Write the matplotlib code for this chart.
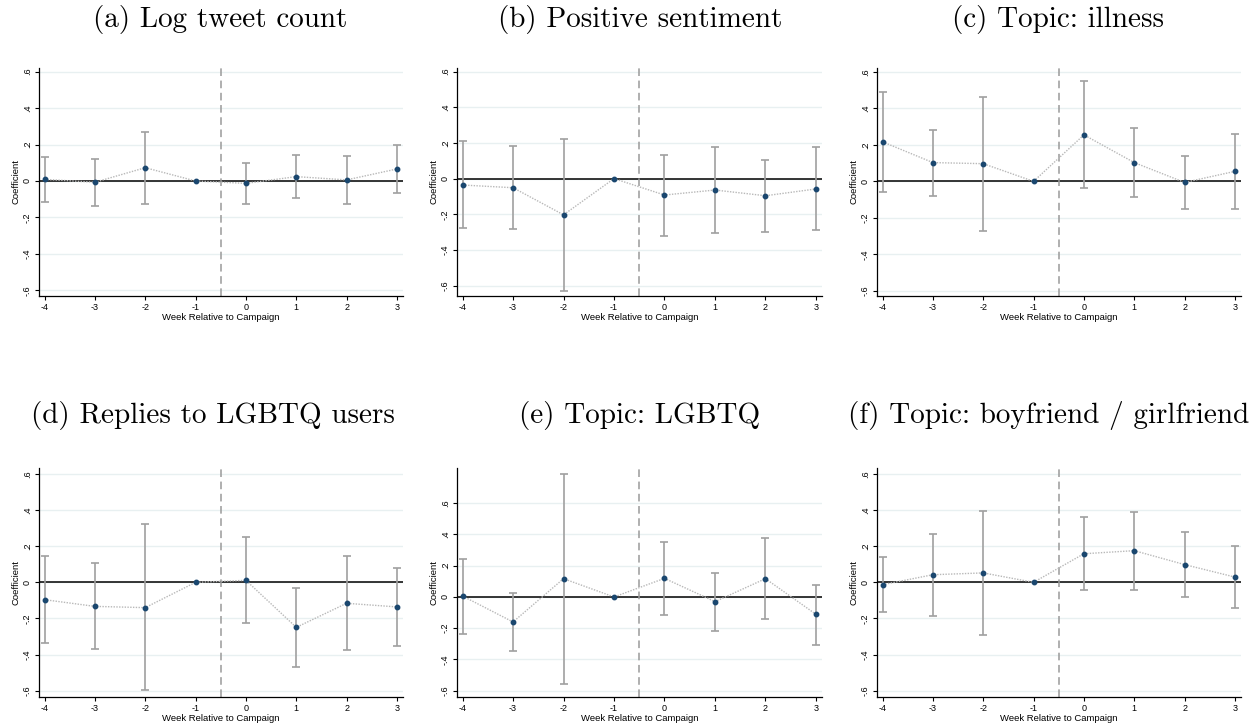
import numpy as np
import matplotlib
matplotlib.use("Agg")
import matplotlib.pyplot as plt

weeks = [-4, -3, -2, -1, 0, 1, 2, 3]

titles = ["(a) Log tweet count", "(b) Positive sentiment", "(c) Topic: illness",
          "(d) Replies to LGBTQ users", "(e) Topic: LGBTQ",
          "(f) Topic: boyfriend / girlfriend"]

# point estimates (week -1 is the omitted reference week)
coef_a = [0.009, -0.007, 0.073, 0.0, -0.013, 0.024, 0.006, 0.066]
coef_b = [-0.036, -0.051, -0.203, 0.0, -0.092, -0.064, -0.096, -0.058]
coef_c = [0.217, 0.103, 0.097, 0.0, 0.255, 0.103, -0.006, 0.055]
coef_d = [-0.096, -0.133, -0.140, 0.0, 0.011, -0.249, -0.116, -0.136]
coef_e = [0.006, -0.160, 0.117, 0.0, 0.119, -0.030, 0.117, -0.111]
coef_f = [-0.013, 0.042, 0.052, 0.0, 0.158, 0.175, 0.098, 0.029]

# 95% confidence bounds
lo_a = [-0.116, -0.138, -0.125, None, -0.125, -0.094, -0.125, -0.066]
hi_a = [0.134, 0.120, 0.268, None, 0.099, 0.141, 0.138, 0.200]
lo_b = [-0.278, -0.282, -0.630, None, -0.322, -0.305, -0.297, -0.290]
hi_b = [0.209, 0.181, 0.224, None, 0.135, 0.179, 0.107, 0.175]
lo_c = [-0.057, -0.079, -0.270, None, -0.039, -0.084, -0.150, -0.150]
hi_c = [0.492, 0.284, 0.462, None, 0.550, 0.292, 0.141, 0.261]
lo_d = [-0.335, -0.368, -0.597, None, -0.227, -0.466, -0.376, -0.352]
hi_d = [0.145, 0.105, 0.320, None, 0.250, -0.031, 0.144, 0.077]
lo_e = [-0.235, -0.345, -0.554, None, -0.113, -0.215, -0.141, -0.305]
hi_e = [0.245, 0.026, 0.789, None, 0.354, 0.154, 0.375, 0.079]
lo_f = [-0.166, -0.184, -0.291, None, -0.042, -0.042, -0.081, -0.140]
hi_f = [0.138, 0.265, 0.392, None, 0.359, 0.390, 0.276, 0.200]

coefs = [coef_a, coef_b, coef_c, coef_d, coef_e, coef_f]
lows = [lo_a, lo_b, lo_c, lo_d, lo_e, lo_f]
highs = [hi_a, hi_b, hi_c, hi_d, hi_e, hi_f]
ylims = [(-0.631, 0.62), (-0.658, 0.62), (-0.629, 0.622),
         (-0.634, 0.632), (-0.64, 0.825), (-0.634, 0.632)]

W, H = 1257, 728
fig = plt.figure(figsize=(W / 100, H / 100), dpi=100)

# axes boxes in pixels: left, right, top, bottom
boxes = [(39, 403, 68, 296), (457, 822, 68, 296), (877, 1241, 68, 296),
         (39, 403, 468, 697), (457, 822, 468, 697), (877, 1241, 468, 697)]
# title centres in pixels
title_xy = [(220, 19), (640, 19), (1058, 19),
            (213, 416), (640, 416), (1049, 416)]

navy = "#1a476f"
yticks = [-0.6, -0.4, -0.2, 0, 0.2, 0.4, 0.6]
ytlabels = ["-.6", "-.4", "-.2", "0", ".2", ".4", ".6"]

for i in range(6):
    l, r, t, b = boxes[i]
    ax = fig.add_axes([l / W, 1 - b / H, (r - l) / W, (b - t) / H])
    ax.set_xlim(-4.11, 3.12)
    ax.set_ylim(*ylims[i])
    for yt in yticks:
        ax.axhline(yt, color="#e8f0f1", lw=1.0, zorder=0)
    ax.axhline(0, color="black", lw=1.1, zorder=1)
    ax.axvline(-0.5, color="#9a9a9a", lw=1.1, ls=(0, (5, 3)), zorder=1)

    x_ci = [w for w, lo in zip(weeks, lows[i]) if lo is not None]
    lo = np.array([v for v in lows[i] if v is not None])
    hi = np.array([v for v in highs[i] if v is not None])
    c = np.array([cc for cc, v in zip(coefs[i], lows[i]) if v is not None])
    ax.errorbar(x_ci, c, yerr=[c - lo, hi - c], fmt="none", ecolor="#a0a0a0",
                elinewidth=1.2, capsize=3, capthick=1.2, zorder=2)
    ax.plot(weeks, coefs[i], color="#b8b8b8", lw=1.0, ls=(0, (1, 1)), zorder=3)
    ax.plot(weeks, coefs[i], "o", color=navy, markersize=3.2, zorder=4)

    ax.set_yticks(yticks)
    ax.set_yticklabels(ytlabels, rotation=90, va="center")
    ax.set_xticks(weeks)
    ax.set_xticklabels([str(w) for w in weeks])
    ax.tick_params(labelsize=6.5, length=3, width=0.8, pad=2)
    ax.spines["top"].set_visible(False)
    ax.spines["right"].set_visible(False)
    ax.spines["left"].set_linewidth(0.9)
    ax.spines["bottom"].set_linewidth(0.9)
    ax.set_xlabel("Week Relative to Campaign", fontsize=6.8, labelpad=1)
    ax.set_ylabel("Coefficient", fontsize=6.8, labelpad=2)
    for lab in ax.get_xticklabels() + ax.get_yticklabels():
        lab.set_family("Liberation Sans")
    ax.xaxis.label.set_family("Liberation Sans")
    ax.yaxis.label.set_family("Liberation Sans")

    tx, ty = title_xy[i]
    fig.text(tx / W, 1 - ty / H, titles[i],
             family="cmr10", fontsize=21, ha="center", va="center")

fig.savefig("out.png", dpi=100)
